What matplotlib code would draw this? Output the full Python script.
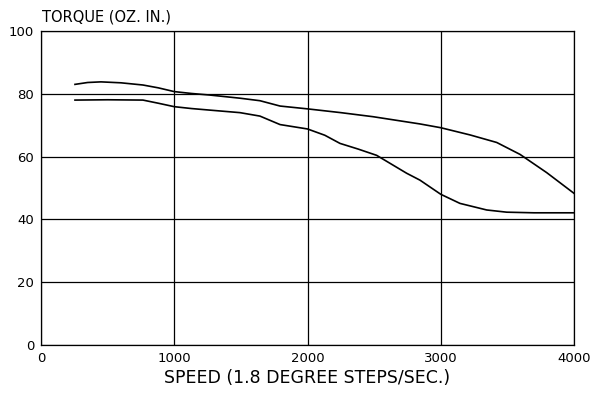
import matplotlib
matplotlib.use("Agg")
import matplotlib.pyplot as plt

# Upper curve
upper_speed = [255, 350, 450, 600, 765, 880, 1000, 1130, 1268, 1493, 1643, 1794, 2000, 2250, 2493, 2844, 3000, 3220, 3420, 3595, 3795, 4000]
upper_torque = [83.0, 83.6, 83.8, 83.5, 82.8, 81.9, 80.7, 80.1, 79.6, 78.6, 77.8, 76.1, 75.2, 74.0, 72.7, 70.4, 69.2, 66.9, 64.5, 60.7, 54.9, 48.3]

# Lower curve
lower_speed = [255, 500, 765, 880, 1000, 1130, 1268, 1493, 1643, 1794, 2000, 2130, 2244, 2380, 2519, 2744, 2844, 3000, 3144, 3345, 3495, 3700, 4000]
lower_torque = [78.0, 78.1, 78.0, 77.0, 75.9, 75.3, 74.8, 74.0, 72.9, 70.2, 68.8, 66.8, 64.2, 62.4, 60.4, 54.7, 52.5, 48.0, 45.1, 43.0, 42.3, 42.1, 42.1]

xticks = [0, 1000, 2000, 3000, 4000]
yticks = [0, 20, 40, 60, 80, 100]

fig = plt.figure(figsize=(5.97, 3.96), dpi=100)
ax = fig.add_axes([41/597, 1-345/396, (574-41)/597, (345-31)/396])

ax.plot(upper_speed, upper_torque, color="black", lw=1.2, solid_joinstyle="round")
ax.plot(lower_speed, lower_torque, color="black", lw=1.2, solid_joinstyle="round")

ax.set_xlim(0, 4000)
ax.set_ylim(0, 100)
ax.set_xticks(xticks)
ax.set_yticks(yticks)
ax.set_xticklabels([str(v) for v in xticks], fontsize=9.5)
ax.set_yticklabels([str(v) for v in yticks], fontsize=9.5)
ax.tick_params(length=0, pad=5)
ax.grid(True, color="black", lw=0.9)
for s in ax.spines.values():
    s.set_linewidth(0.9)

ax.set_xlabel("SPEED (1.8 DEGREE STEPS/SEC.)", fontsize=12.5, labelpad=3)
fig.text(42/597, 1-17/396, "TORQUE (OZ. IN.)", fontsize=10.5, ha="left", va="center")

fig.savefig("out.png", dpi=100)
